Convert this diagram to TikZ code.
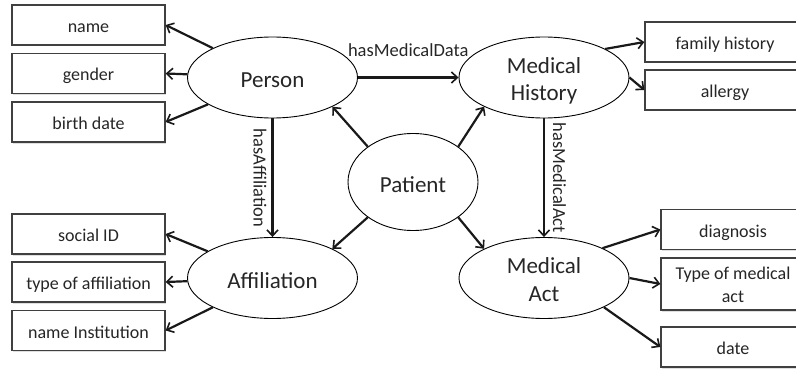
\documentclass[tikz,border=0pt]{standalone}
\usepackage{fontspec}
\setmainfont{Carlito}
\usetikzlibrary{arrows.meta,shadows,shapes.geometric}
\begin{document}
\begin{tikzpicture}[x=1pt,y=-1pt,
  every node/.style={font=\fontsize{18}{23}\selectfont, text=black!85},
  attr/.style={draw=black!75, line width=1.3pt, fill=white, rectangle, inner sep=0pt,
    minimum width=153pt, minimum height=40pt, align=center, text height=15pt, text depth=0pt,
    drop shadow={shadow xshift=1.2pt, shadow yshift=-1.5pt, opacity=0.25}},
  rattr/.style={attr, minimum width=160pt},
  cls/.style={draw=black, line width=0.9pt, fill=white, ellipse, inner sep=0pt,
    minimum width=170pt, minimum height=81pt, align=center, text height=21pt, text depth=0pt,
    font=\fontsize{23}{28}\selectfont},
  cls2/.style={cls, text height=47pt},
  arr/.style={line width=2.2pt, draw=black!90, -{Straight Barb[length=6pt,width=11pt,line width=1.6pt]}},
  lbl/.style={inner sep=0pt, font=\fontsize{18.5}{22}\selectfont}
]
\clip (0,0) rectangle (796,369);
% class ellipses
\node[cls] (person) at (272.5,77.5) {Person};
\node[cls2] (mh) at (544,77.5) {Medical\\History};
\node[cls] (aff) at (272.5,278) {Affiliation};
\node[cls2] (ma) at (544,278) {Medical\\Act};
\node[cls, minimum width=130pt, minimum height=97pt] (patient) at (413,182) {Patient};
% attribute boxes left
\node[attr] (name) at (88.5,25) {name};
\node[attr] (gender) at (88.5,73.5) {gender};
\node[attr] (birth) at (88.5,122) {birth date};
\node[attr] (social) at (88.5,234) {social ID};
\node[attr] (typeaff) at (88.5,282) {type of affiliation};
\node[attr] (inst) at (88.5,330.5) {name Institution};
% attribute boxes right
\node[rattr] (family) at (725,42) {family history};
\node[rattr] (allergy) at (725,90) {allergy};
\node[rattr, minimum width=144pt] (diag) at (733,229.5) {diagnosis};
\node[rattr, minimum width=144pt, minimum height=52pt, text height=37pt] (typeact) at (733,284) {Type of medical\\act};
\node[rattr, minimum width=144pt] (date) at (733,347) {date};
% person attributes
\draw[arr] (person) -- (name.east);
\draw[arr] (person) -- (gender.east);
\draw[arr] (person) -- (birth.east);
% affiliation attributes
\draw[arr] (aff) -- (social.east);
\draw[arr] (aff) -- (typeaff.east);
\draw[arr] (aff) -- (inst.east);
% medical history attributes
\draw[arr] (mh.25) -- (family.west);
\draw[arr] (mh.east) -- (allergy.west);
% medical act attributes
\draw[arr] (ma.27) -- (diag.west);
\draw[arr] (ma.east) -- (typeact.west);
\draw[arr] (ma.-26) -- (date.west);
% patient links
\draw[arr] (patient.142) -- (person.-26);
\draw[arr] (patient.38) -- (mh.206);
\draw[arr] (patient.218) -- (aff.26);
\draw[arr] (patient.322) -- (ma.154);
% relations
\draw[arr] (person.east) -- node[lbl, midway, above=20pt] (lmd) {hasMedicalData} (mh.west);
\draw[arr] (person.south) -- node[lbl, midway, rotate=-90, anchor=north, yshift=-5pt] (laff) {hasAffiliation} (aff.north);
\draw[arr] (mh.south) -- node[lbl, midway, rotate=-90, anchor=south, yshift=8pt] (lma) {hasMedicalAct} (ma.north);
\end{tikzpicture}
\end{document}
